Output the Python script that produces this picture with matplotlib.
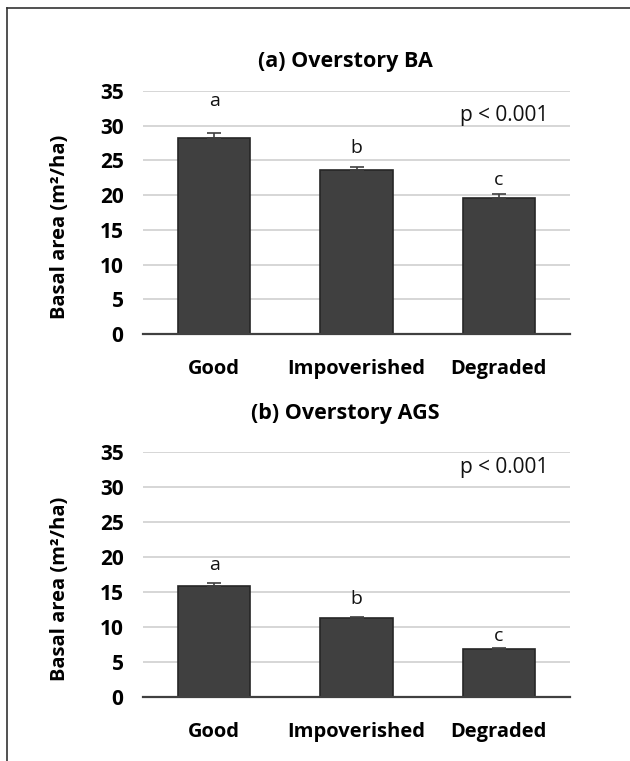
import numpy as np
import matplotlib.pyplot as plt
from matplotlib.lines import Line2D

plt.rcParams['font.family'] = ['Open Sans', 'DejaVu Sans']

cats = ["Good", "Impoverished", "Degraded"]

ba_mean = [28.2, 23.6, 19.6]
ba_err = [0.7, 0.5, 0.5]
ba_letters = ["a", "b", "c"]

ags_mean = [15.8, 11.3, 6.9]
ags_err = [0.5, 0.2, 0.15]
ags_letters = ["a", "b", "c"]

titles = ["(a) Overstory BA", "(b) Overstory AGS"]
yticks = [0, 5, 10, 15, 20, 25, 30, 35]

fig = plt.figure(figsize=(6.3, 7.61), dpi=100)

# outer frame (only left and top visible in the crop)
fig.add_artist(Line2D([7/630, 7/630], [0, 1 - 8/761], transform=fig.transFigure, color='#333333', lw=1.2))
fig.add_artist(Line2D([7/630, 1], [1 - 8/761, 1 - 8/761], transform=fig.transFigure, color='#333333', lw=1.2))

left = 143/630
width = (570 - 143)/630
boxes = [(1 - 334/761, (334 - 91)/761), (1 - 697/761, (697 - 452)/761)]
title_y = [1 - 62/761, 1 - 413/761]
# gap between error bar top and letter centre, as in the original labels
letter_gap = [[4.7, 2.7, 2.1], [2.6, 2.5, 1.6]]
data = [(ba_mean, ba_err, ba_letters), (ags_mean, ags_err, ags_letters)]

for i in range(2):
    b0, h = boxes[i]
    ax = fig.add_axes([left, b0, width, h])
    mean, err, letters = data[i]
    x = np.arange(len(cats))
    ax.bar(x, mean, width=0.51, color='#404040', edgecolor='#262626', linewidth=1.2, zorder=3)
    ax.errorbar(x, mean, yerr=[np.zeros(3), err], fmt='none', ecolor='#404040',
                elinewidth=1.2, capsize=5, capthick=1.2, zorder=4)
    for xi, m, e, l, g in zip(x, mean, err, letters, letter_gap[i]):
        ax.text(xi, m + e + g, l, ha='center', va='center', fontsize=14, color='#111111')
    ax.set_xlim(-0.5, 2.5)
    ax.set_ylim(0, 35)
    ax.set_yticks(yticks)
    ax.set_yticklabels([str(t) for t in yticks], fontsize=15, fontweight='bold')
    ax.set_xticks(x)
    ax.set_xticklabels(cats, fontsize=14.5, fontweight='bold')
    ax.tick_params(axis='y', length=0, pad=14)
    ax.tick_params(axis='x', length=0, pad=18)
    ax.yaxis.grid(True, color='#d0d0d0', lw=1.2, zorder=0)
    ax.set_axisbelow(True)
    for s in ['top', 'right', 'left']:
        ax.spines[s].set_visible(False)
    ax.spines['bottom'].set_color('#404040')
    ax.spines['bottom'].set_linewidth(1.6)
    ax.spines['bottom'].set_zorder(5)
    ax.set_ylabel("Basal area (m²/ha)", fontsize=14.5, fontweight='bold')
    ax.yaxis.set_label_coords(-0.17, 0.44)
    ax.text(0.845, 0.9 if i == 0 else 0.935, "p < 0.001", transform=ax.transAxes,
            ha='center', va='center', fontsize=15, color='#111111')
    fig.text(345/630, title_y[i], titles[i], ha='center', va='center',
             fontsize=15.5, fontweight='bold')

fig.savefig("out.png", dpi=100)
